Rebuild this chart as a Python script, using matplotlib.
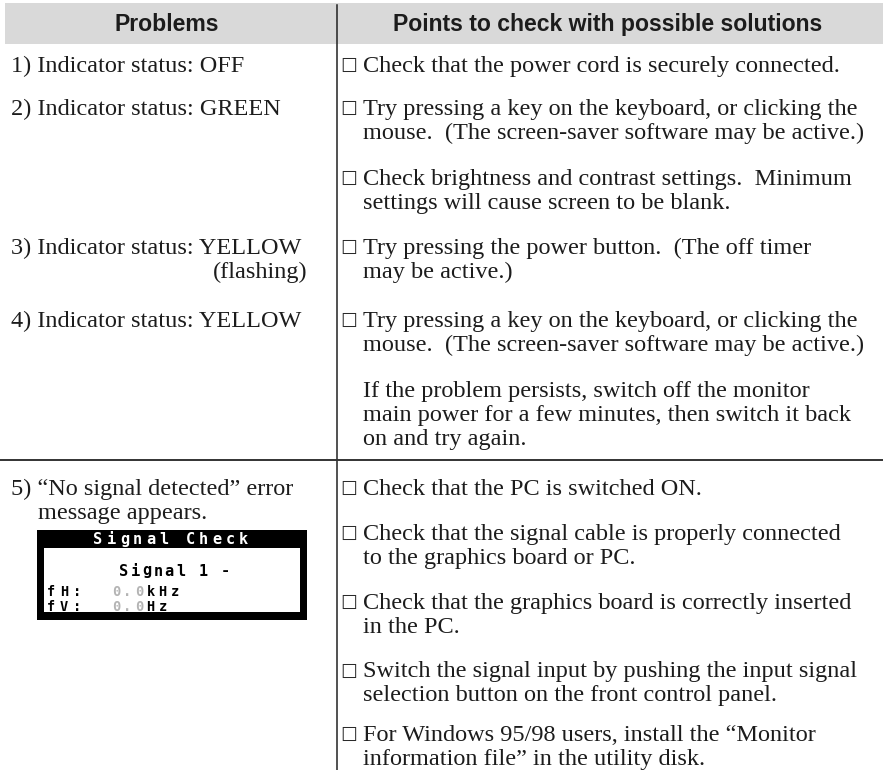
import matplotlib
matplotlib.use("Agg")
import matplotlib.pyplot as plt
from matplotlib.patches import Rectangle

# ---------------- data ----------------
headers = ["Problems", "Points to check with possible solutions"]

problems = [
    ["1) Indicator status: OFF"],
    ["2) Indicator status: GREEN"],
    ["3) Indicator status: YELLOW"],
    ["4) Indicator status: YELLOW"],
    ["5) \u201cNo signal detected\u201d error", "message appears."],
]
problem_notes = {2: "(flashing)"}

# (has_checkbox, lines)
solutions = [
    (True, ["Check that the power cord is securely connected."]),
    (True, ["Try pressing a key on the keyboard, or clicking the",
            "mouse.  (The screen-saver software may be active.)"]),
    (True, ["Check brightness and contrast settings.  Minimum",
            "settings will cause screen to be blank."]),
    (True, ["Try pressing the power button.  (The off timer",
            "may be active.)"]),
    (True, ["Try pressing a key on the keyboard, or clicking the",
            "mouse.  (The screen-saver software may be active.)"]),
    (False, ["If the problem persists, switch off the monitor",
             "main power for a few minutes, then switch it back",
             "on and try again."]),
    (True, ["Check that the PC is switched ON."]),
    (True, ["Check that the signal cable is properly connected",
            "to the graphics board or PC."]),
    (True, ["Check that the graphics board is correctly inserted",
            "in the PC."]),
    (True, ["Switch the signal input by pushing the input signal",
            "selection button on the front control panel."]),
    (True, ["For Windows 95/98 users, install the \u201cMonitor",
            "information file\u201d in the utility disk."]),
]

osd_title = "Signal Check"
osd_signal = "Signal 1 -"
osd_rows = [("fH:", "0.0", "kHz"), ("fV:", "0.0", "Hz")]

# ---------------- layout ----------------
W, H = 883, 770
problem_baselines = [72, 115, 254, 327, 495]
solution_baselines = [72, 115, 185, 254, 327, 397, 495, 540, 609, 677.5, 741]
line_h = 24
body_font = "Liberation Serif"
body_size = 17.5
ink = "#1c1c1c"

fig = plt.figure(figsize=(W / 100, H / 100), dpi=100)
ax = fig.add_axes([0, 0, 1, 1])
ax.set_xlim(0, W)
ax.set_ylim(H, 0)
ax.axis("off")

# header band
ax.add_patch(Rectangle((5, 3), W - 5, 41, facecolor="#d9d9d9", edgecolor="none", zorder=0))
ax.text(167, 31, headers[0], ha="center", va="baseline", fontsize=16.6,
        fontweight="bold", family="Liberation Sans", color=ink)
ax.text(608, 31, headers[1], ha="center", va="baseline", fontsize=16.6,
        fontweight="bold", family="Liberation Sans", color=ink)

# grid lines
ax.plot([336.5, 336.5], [5, 770], color="#222222", lw=1.1)
ax.plot([0, W], [460, 460], color="#333333", lw=1.4)

# problems
for i, (lines, yb) in enumerate(zip(problems, problem_baselines)):
    for j, ln in enumerate(lines):
        x = 11 if j == 0 else 38
        ax.text(x, yb + j * line_h, ln, ha="left", va="baseline",
                fontsize=body_size, family=body_font, color=ink)
    if i in problem_notes:
        ax.text(307, yb + line_h, problem_notes[i], ha="right", va="baseline",
                fontsize=body_size, family=body_font, color=ink)

# solutions
for (cb, lines), yb in zip(solutions, solution_baselines):
    if cb:
        ax.text(340, yb, "\u2610", ha="left", va="baseline", fontsize=13.5,
                family="DejaVu Sans", color="#2a2a2a")
    for j, ln in enumerate(lines):
        ax.text(363, yb + j * line_h, ln, ha="left", va="baseline",
                fontsize=body_size, family=body_font, color=ink)

# OSD "Signal Check" box
ax.add_patch(Rectangle((37, 530), 270, 90, facecolor="black", edgecolor="none"))
ax.add_patch(Rectangle((44, 548), 256, 64, facecolor="white", edgecolor="none"))


def spaced(s, x0, y, step, color, size=10):
    for k, c in enumerate(s):
        if c != " ":
            ax.text(x0 + k * step, y, c, ha="center", va="center", fontsize=size,
                    family="DejaVu Sans Mono", fontweight="bold", color=color)


spaced(osd_title, 98, 539.5, 13.2, "white", size=11)
spaced(osd_signal, 124, 571, 11.3, "black", size=11)
for r, (lab, val, unit) in enumerate(osd_rows):
    yy = 592.5 + r * 14.5
    spaced(lab, 51, yy, 13, "black", size=9.8)
    spaced(val, 116, yy, 11.5, "#b4b4b4", size=9.8)
    spaced(unit, 150.5, yy, 12, "black", size=9.8)

fig.savefig("out.png", dpi=100)
